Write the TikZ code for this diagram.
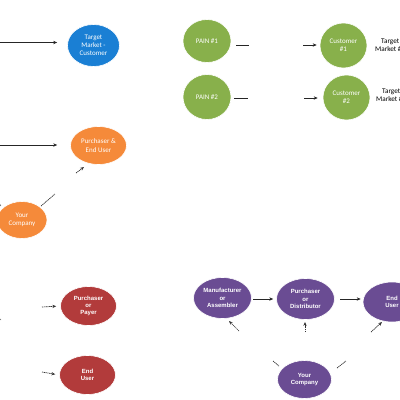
\documentclass[tikz,border=0pt]{standalone}
\usepackage{fontspec}
\setmainfont{Carlito}
\newfontfamily\arialb{Liberation Sans}
\usetikzlibrary{arrows.meta,shapes.geometric}
\definecolor{cblue}{HTML}{1A7FD4}
\definecolor{cgreen}{HTML}{88B04B}
\definecolor{corange}{HTML}{F58A3A}
\definecolor{cred}{HTML}{B23B3B}
\definecolor{cpurple}{HTML}{6A4C93}
\tikzset{
  ell/.style={ellipse, draw=white, line width=0.6pt, inner sep=0pt, text=white, align=center, font=\fontsize{7}{8.2}\selectfont},
  arr/.style={-{Stealth[length=4pt,width=3.4pt]}, line width=0.8pt, black!85},
  plain/.style={line width=0.8pt, black!85},
  dsh/.style={dashed, dash pattern=on 1.2pt off 0.6pt, line width=0.7pt, black!80},
  darr/.style={dsh, -{Stealth[length=3.8pt,width=3.2pt]}},
  pfont/.style={font=\arialb\bfseries\fontsize{6}{7.3}\selectfont},
  lab/.style={font=\fontsize{7.2}{8.2}\selectfont, align=center, anchor=west, inner sep=0pt},
}
\begin{document}
\begin{tikzpicture}[x=1pt,y=-1pt]
\useasboundingbox (0,0) rectangle (400,400);
\clip (0,0) rectangle (400,400);
% blue
\node[ell, fill=cblue, minimum width=52, minimum height=42] (tmc) at (93.5,45.5) {Target\\Market -\\Customer};
\coordinate (b0) at (-2,42.5);
\draw[arr, shorten >=10pt] (b0) -- (b0 -| tmc.west);
% green
\node[ell, fill=cgreen, minimum width=48, minimum height=43] (p1) at (207,41) {PAIN \#1};
\node[ell, fill=cgreen, minimum width=48, minimum height=45] (p2) at (207,97) {PAIN \#2};
\node[ell, fill=cgreen, minimum width=47, minimum height=45] (c1) at (343.5,45.5) {Customer\\\#1};
\node[ell, fill=cgreen, minimum width=47, minimum height=45] (c2) at (346.5,97.5) {Customer\\\#2};
\coordinate (g1a) at (236,45); \coordinate (g1b) at (249,45);
\coordinate (g2a) at (234,98); \coordinate (g2b) at (248,98);
\coordinate (g1c) at (303,45); \coordinate (g2c) at (304,98);
\draw[plain] (g1a) -- (g1b);
\draw[plain] (g2a) -- (g2b);
\draw[arr, shorten >=3pt] (g1c) -- (g1c -| c1.west);
\draw[arr, shorten >=5pt] (g2c) -- (g2c -| c2.west);
\node[lab] (tm1) at (375,45.5) {Target\\Market \#1};
\node[lab] (tm2) at (376,95) {Target\\Market \#2};
% orange
\node[ell, fill=corange, minimum width=56, minimum height=38] (peu) at (98.5,145.5) {Purchaser \&\\End User};
\node[ell, fill=corange, minimum width=50, minimum height=37] (yc1) at (22,220) {Your\\Company};
\coordinate (o0) at (-2,145);
\draw[arr, shorten >=13pt] (o0) -- (o0 -| peu.west);
\coordinate (od1) at (41,206); \coordinate (od2) at (55,194);
\coordinate (od3) at (76,173); \coordinate (od4) at (84,167);
\draw[dsh] (od1) -- (od2);
\draw[darr] (od3) -- (od4);
\coordinate (ox1) at (-1,203); \coordinate (ox2) at (1,206);
\draw[line width=0.5pt, black!70] (ox1) -- (ox2);
% red
\node[ell, fill=cred, pfont, minimum width=56, minimum height=39] (pop) at (88.5,306) {Purchaser\\or\\Payer};
\node[ell, fill=cred, pfont, minimum width=56, minimum height=39] (eu1) at (87.5,375) {End\\User};
\coordinate (r1) at (42,307); \coordinate (r2) at (42,372);
\draw[darr, shorten >=4pt] (r1) -- (pop.west);
\draw[darr, shorten >=4pt] (r2) -- (eu1.west);
\coordinate (rx1) at (-1,318); \coordinate (rx2) at (1,320);
\draw[line width=0.5pt, black!60] (rx1) -- (rx2);
% purple
\node[ell, fill=cpurple, pfont, minimum width=58, minimum height=41] (ma) at (222.5,298) {Manufacturer\\or\\Assembler};
\node[ell, fill=cpurple, pfont, minimum width=58, minimum height=41] (pd) at (305.5,299) {Purchaser\\or\\Distributor};
\node[ell, fill=cpurple, pfont, minimum width=58, minimum height=40] (eu2) at (392,302) {End\\User};
\node[ell, fill=cpurple, pfont, minimum width=54, minimum height=38] (yc2) at (304.5,379.5) {Your\\Company};
\coordinate (m1) at (253,299); \coordinate (m2) at (340,299);
\draw[arr, shorten >=3pt] (m1) -- (m1 -| pd.west);
\draw[arr, shorten >=2pt] (m2) -- (m2 -| eu2.west);
\coordinate (pa1) at (239,331); \coordinate (pa2) at (229,321);
\coordinate (pb1) at (305,332); \coordinate (pb2) at (305,322);
\coordinate (pc1) at (371,332); \coordinate (pc2) at (382,322);
\draw[darr] (pa1) -- (pa2);
\draw[darr] (pb1) -- (pb2);
\draw[darr] (pc1) -- (pc2);
\coordinate (pd1) at (273,361); \coordinate (pd2) at (279,366);
\coordinate (pe1) at (337,368); \coordinate (pe2) at (346,361);
\draw[dsh] (pd1) -- (pd2);
\draw[dsh] (pe1) -- (pe2);
\end{tikzpicture}
\end{document}
